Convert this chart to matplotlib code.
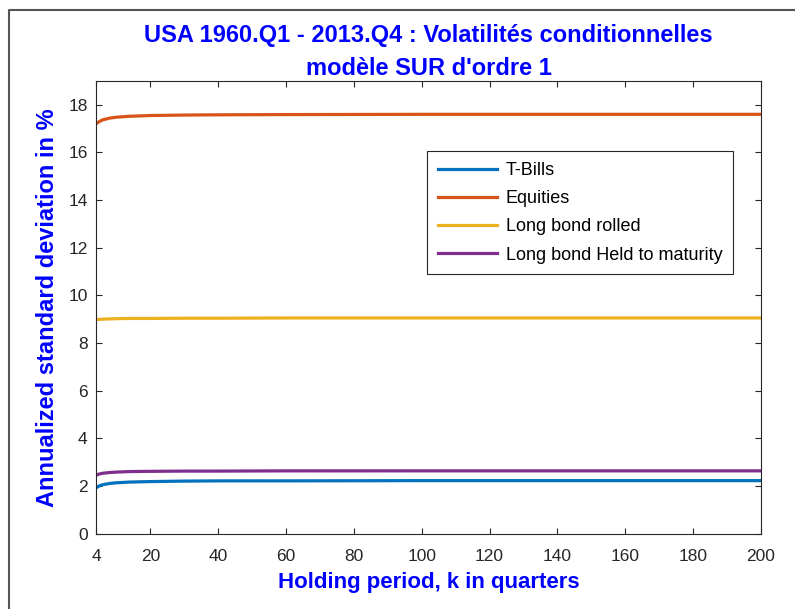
import matplotlib
matplotlib.use('Agg')
import matplotlib.pyplot as plt
from matplotlib.lines import Line2D

plt.rcParams['font.family'] = ['Liberation Sans', 'DejaVu Sans']

# holding period (quarters) and annualized volatilities (%)
k = [4, 5, 6, 8, 10, 14, 20, 30, 40, 60, 100, 150, 200]
tbills = [1.92, 2.00, 2.05, 2.10, 2.13, 2.16, 2.18, 2.20, 2.21, 2.21, 2.22, 2.22, 2.22]
equities = [17.20, 17.30, 17.37, 17.44, 17.48, 17.52, 17.55, 17.57, 17.58, 17.59, 17.60, 17.60, 17.60]
bond_rolled = [8.98, 8.99, 9.00, 9.01, 9.02, 9.03, 9.03, 9.04, 9.04, 9.05, 9.05, 9.05, 9.05]
bond_held = [2.45, 2.50, 2.53, 2.56, 2.58, 2.60, 2.61, 2.62, 2.62, 2.63, 2.63, 2.63, 2.63]

labels = ['T-Bills', 'Equities', 'Long bond rolled', 'Long bond Held to maturity']
colors = ['#0072BD', '#D95319', '#EDB120', '#7E2F8E']
xticks = [4, 20, 40, 60, 80, 100, 120, 140, 160, 180, 200]
yticks = [0, 2, 4, 6, 8, 10, 12, 14, 16, 18]

dark = '#262626'

fig = plt.figure(figsize=(7.95, 6.09), dpi=100)
ax = fig.add_axes([96 / 795, 1 - 533.5 / 609, 665 / 795, 452.5 / 609])

for y, lab, c in zip([tbills, equities, bond_rolled, bond_held], labels, colors):
    ax.plot(k, y, color=c, linewidth=2.3, label=lab)

ax.set_xlim(4, 200)
ax.set_ylim(0, 19)
ax.set_xticks(xticks)
ax.set_yticks(yticks)
ax.tick_params(direction='in', length=4, width=0.8, top=True, right=True,
               labelsize=12.5, colors=dark, pad=6)
ax.tick_params(axis='x', pad=11)
for s in ax.spines.values():
    s.set_color(dark)
    s.set_linewidth(0.8)

ax.set_title('USA 1960.Q1 - 2013.Q4 : Volatilités conditionnelles\nmodèle SUR d\'ordre 1',
             color='blue', fontsize=17, fontweight='bold', linespacing=1.6, pad=4)
ax.set_xlabel('Holding period, k in quarters', color='blue', fontsize=16,
              fontweight='bold', labelpad=6)
ax.set_ylabel('Annualized standard deviation in %', color='blue', fontsize=17,
              fontweight='bold', labelpad=7)

leg = ax.legend(loc='upper right', bbox_to_anchor=(0.958, 0.845), fontsize=13,
                handlelength=3.3, handletextpad=0.45, labelspacing=0.62,
                borderpad=0.6, borderaxespad=0,
                fancybox=False, framealpha=1, edgecolor=dark)
leg.get_frame().set_linewidth(0.8)

# window frame (top and left edges)
fig.add_artist(Line2D([9 / 795, 9 / 795, 1], [0, 1 - 10 / 609, 1 - 10 / 609],
                      transform=fig.transFigure, color='#555555', linewidth=1.5))

fig.savefig('out.png', dpi=100)
